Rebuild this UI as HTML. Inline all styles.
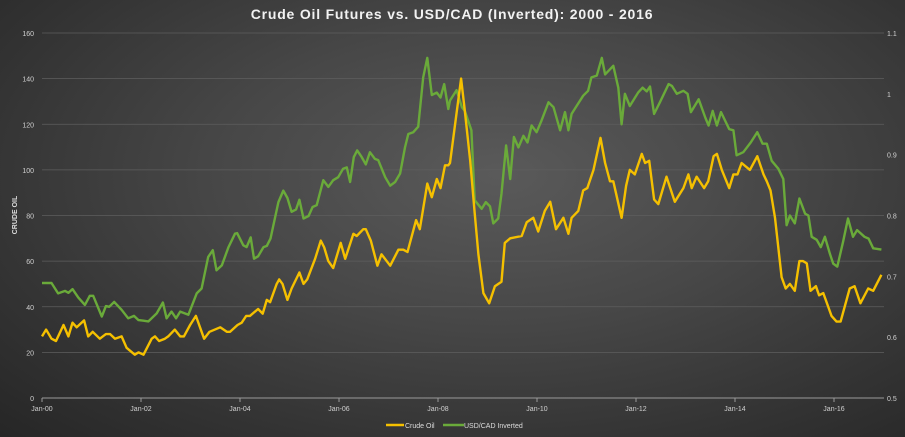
<!DOCTYPE html>
<html><head><meta charset="utf-8">
<style>
html,body{margin:0;padding:0;}
body{width:905px;height:437px;overflow:hidden;background:radial-gradient(ellipse at 55% 40%,#5a5a5a 0%,#474747 40%,#333 75%,#262626 100%);font-family:"Liberation Sans",sans-serif;}
svg{position:absolute;left:0;top:0;}
</style></head>
<body>
<svg id="chart" width="905" height="437">
<text x="452" y="19" text-anchor="middle" fill="#f2f2f2" font-size="14" font-weight="bold" letter-spacing="0.8">Crude Oil Futures vs. USD/CAD (Inverted): 2000 - 2016</text>
<text transform="translate(17,215) rotate(-90)" text-anchor="middle" fill="#ddd" font-size="7" font-weight="bold">CRUDE OIL</text>
<g id="grid"></g><g id="axes"></g><g id="series"></g>
<g>
<line x1="386" y1="425" x2="404" y2="425" stroke="#f5c000" stroke-width="2.5"/>
<text x="405" y="428" fill="#ddd" font-size="7">Crude Oil</text>
<line x1="443" y1="425" x2="464" y2="425" stroke="#6aaa3a" stroke-width="2.5"/>
<text x="464" y="428" fill="#ddd" font-size="7">USD/CAD Inverted</text>
</g>
</svg>
<script>
const leftTicks=[0,20,40,60,80,100,120,140,160];
const rightTicks=[0.5,0.6,0.7,0.8,0.9,1,1.1];
const xTickLabels=["Jan-00","Jan-02","Jan-04","Jan-06","Jan-08","Jan-10","Jan-12","Jan-14","Jan-16"];
const xTickMonths=[0,24,48,72,96,120,144,168,192];
const crudeMonths=[0,1,2.3,3.4,5.2,6.4,7.4,8.4,10.2,11.2,12.3,14,15.5,16.5,17.7,19.3,20.5,22.5,23.4,24.6,26.6,27.4,28.4,29.8,30.6,32.2,33.5,34.4,35.9,37.3,39.3,40.6,43.2,44.8,45.6,47.4,48.4,49.5,50.4,52.4,53.5,54.5,55.3,56.9,57.5,58.3,59.5,60.5,62.4,63.4,64.3,66.2,67.6,68.4,69.4,70.6,72.4,73.5,75.5,76.3,77.9,78.5,79.7,81.3,82.3,84.4,86.4,87.6,88.6,90.7,91.6,93.4,94.5,95.7,96.6,97.7,98.5,
98.9,101.6,102.5,103.8,104.9,105.8,107,108.4,109.8,111.4,112.2,113.5,116.3,117.5,119.1,120.3,121.9,123.2,124.6,126.4,127.6,128.4,130,131.2,132.2,133.7,135.4,136.5,137.7,138.5,140.5,141.6,142.5,143.7,145.4,146.2,147.2,148.4,149.4,151.4,153.4,155.5,156.7,157.5,158.7,160.5,161.5,162.8,163.6,164.8,166.6,167.6,168.6,169.6,171.6,173.4,174.9,175.7,176.6,177.7,179.3,180.3,181.3,182.5,183.6,184.5,185.4,186.3,187.6,188.4,189.4,191.4,192.6,193.6,195.8,197,198.4,200.3,201.5,203.5];
const crudeValues=[27,30,26,25,32,27,33,31,34,27,29,26,28,28,26,27,22,19,20,19,26,27,25,26,27,30,27,27,32,36,26,29,31,29,29,32,33,36,36,39,37,43,42,50,52,50,43,48,55,50,52,61,69,66,60,57,68,61,72,71,74,74,69,58,63,58,65,65,64,78,74,94,88,96,92,102,102,
103,140,126,104,81,63,46,41.5,49,51,68,70,71,77,79,73,82,86,74,79,72,79,82,91,92,100,114,103,95,95,79,93,100,98,107,103,104,87,85,97,86,92,98,92,97,92,95,106,107,100,92,98,98,103,100,106,98,95,91,79,53,48,50,47,60,60,59,47,49,45,46,36,33.5,33.5,48,49,41.5,48,47,54];
const fxMonths=[0,2.3,3.9,5.6,6.4,7.4,8.8,10.4,11.6,12.4,14.5,15.5,16.3,17.5,19.3,20.9,22.3,23.4,24.6,25.8,27.8,29.3,30.2,31.4,32.5,33.5,35.5,37.5,38.7,40.3,41.4,42.3,43.6,45.2,46.8,47.3,48.8,49.6,50.6,51.4,52.4,53.7,54.5,55.4,57.3,58.5,59.5,60.5,61.6,62.4,63.4,64.6,65.6,66.6,68.2,69.4,70.6,71.8,73,73.9,74.7,75.6,76.4,77.5,78.5,79.5,80.7,81.5,83.2,84.4,85.6,86.8,88,88.8,90,91.2,92.4,93.4,94.5,95.7,96.6,97.5,98.5,
98.9,100.5,101.8,102.5,104.1,104.9,106.6,107.6,108.6,109.4,110.6,111.4,112.5,113.5,114.4,115.5,116.7,117.7,118.7,119.9,121.1,122.8,124,125.6,126.8,127.6,128.4,129.6,131.2,132.4,133.2,134.5,135.7,136.5,138.5,139.7,140.5,141.3,142.5,144.5,145.6,146.6,147.4,148.4,149.8,151.9,152.7,153.9,155.5,156.5,157.3,159.2,160.8,161.6,162.6,163.6,164.6,166.6,167.6,168.4,170,171.8,173.4,174.7,175.7,176.9,178.5,179.7,180.5,181.3,182.5,183.6,185,185.8,186.6,187.8,188.8,189.8,191,191.8,192.8,194.2,195.4,196.6,197.6,199.4,200.4,201.5,203.5];
const fxValues=[.689,.689,.672,.676,.673,.679,.665,.653,.668,.668,.634,.651,.65,.658,.645,.631,.635,.628,.627,.626,.639,.657,.631,.642,.631,.642,.637,.672,.68,.732,.743,.71,.718,.748,.77,.771,.751,.748,.764,.729,.733,.748,.75,.762,.822,.841,.829,.806,.81,.826,.795,.799,.814,.817,.858,.847,.858,.863,.877,.879,.855,.896,.907,.896,.884,.904,.893,.891,.863,.849,.855,.869,.912,.934,.937,.946,1.027,1.059,.998,1.002,.994,1.016,.975,
.989,1.006,.978,.972,.94,.825,.811,.822,.815,.787,.795,.836,.915,.86,.929,.912,.931,.92,.948,.937,.956,.986,.978,.94,.97,.94,.967,.98,.997,1.005,1.027,1.03,1.059,1.032,1.046,1.01,.95,1.0,.98,1.002,1.01,1.004,1.012,.967,.986,1.016,1.013,1.0,1.005,1.0,.97,.991,.961,.948,.972,.948,.97,.942,.94,.899,.904,.92,.937,.918,.918,.89,.877,.86,.784,.8,.787,.828,.803,.8,.765,.76,.748,.765,.737,.721,.716,.757,.795,.765,.776,.765,.762,.746,.744];

const NS="http://www.w3.org/2000/svg";
const X0=42,PXM=4.125,YB=398,YT=33,XR=884;
const xs=m=>X0+m*PXM;
const yl=v=>YB-(v/160)*(YB-YT);
const yr=v=>YB-((v-0.5)/0.6)*(YB-YT);
function mk(tag,attrs,parent){const e=document.createElementNS(NS,tag);for(const k in attrs)e.setAttribute(k,attrs[k]);parent.appendChild(e);return e;}
const grid=document.getElementById('grid'),axes=document.getElementById('axes'),ser=document.getElementById('series');
leftTicks.forEach(v=>{
  if(v>0){const g=mk('line',{x1:X0,x2:XR,y1:yl(v),y2:yl(v),stroke:'#5e5e5e','stroke-width':0.8},grid);
  
  }
  const t=mk('text',{x:34,y:yl(v)+3,'text-anchor':'end',fill:'#d0d0d0','font-size':7},axes);t.textContent=v;
  
  
});
rightTicks.forEach(v=>{
  const t=mk('text',{x:887,y:yr(v)+3,fill:'#d0d0d0','font-size':7},axes);t.textContent=String(v);
  
  
});
const ax=mk('line',{x1:X0,x2:XR,y1:YB,y2:YB,stroke:'#9a9a9a','stroke-width':1},axes);


xTickLabels.forEach((l,i)=>{
  const x=xs(xTickMonths[i]);
  const tk=mk('line',{x1:x,x2:x,y1:YB,y2:YB+4,stroke:'#9a9a9a'},axes);
  
  
  const t=mk('text',{x:x,y:411,'text-anchor':'middle',fill:'#d0d0d0','font-size':7},axes);t.textContent=l;
  
  
});
const fxPts=fxMonths.map((m,i)=>xs(m).toFixed(1)+','+yr(fxValues[i]).toFixed(1)).join(' ');
const fxLine=mk('polyline',{points:fxPts,fill:'none',stroke:'#6aaa3a','stroke-width':2.4,'stroke-linejoin':'round'},ser);


const crPts=crudeMonths.map((m,i)=>xs(m).toFixed(1)+','+yl(crudeValues[i]).toFixed(1)).join(' ');
const crLine=mk('polyline',{points:crPts,fill:'none',stroke:'#f5c000','stroke-width':2.4,'stroke-linejoin':'round'},ser);


</script>
</body></html>
